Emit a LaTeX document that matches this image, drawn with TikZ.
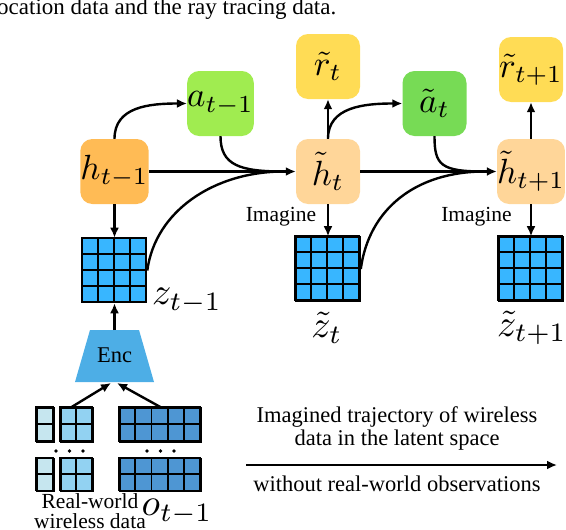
\documentclass[tikz,border=0pt]{standalone}
\usepackage{graphicx}
\usepackage[no-math]{fontspec}
\setmainfont{Liberation Serif}
\usetikzlibrary{arrows.meta,calc}
\definecolor{hOrange}{RGB}{255,187,85}
\definecolor{aGreenA}{RGB}{160,236,80}
\definecolor{hPeach}{RGB}{255,214,153}
\definecolor{rYellow}{RGB}{255,220,85}
\definecolor{aGreenB}{RGB}{119,219,85}
\definecolor{zBlue}{RGB}{56,182,255}
\definecolor{encBlue}{RGB}{77,174,230}
\definecolor{dA}{RGB}{198,230,239}
\definecolor{dB}{RGB}{146,210,242}
\definecolor{dC}{RGB}{78,150,211}
\newcommand\txtf{\fontsize{21.5}{20}\selectfont}
\newcommand\bigtxtf{\fontsize{22.5}{20}\selectfont}
\newcommand\capf{\fontsize{23}{20}\selectfont}
\newcommand\boxm[1]{\scalebox{3.5}{$#1$}}
\newcommand\labm[1]{\scalebox{3.8}{$#1$}}
% name, cols, rows, cell w, cell h
\newcommand\mycells[5]{%
  \foreach \c in {1,...,#2}{\foreach \r in {1,...,#3}{%
    \draw[cellline] ($(#1.north west)+({(\c-1)*#4},{(\r-1)*#5})$) rectangle +(#4,#5);}}%
}
\begin{document}
\begin{tikzpicture}[x=1pt,y=-1pt,
  box/.style={rounded corners=12pt, minimum width=64pt, minimum height=65pt, inner sep=0pt},
  lat/.style={fill=zBlue, draw=black, line width=1.6pt, minimum width=64pt, minimum height=64pt, inner sep=0pt},
  dat/.style={draw=black, line width=1.8pt, inner sep=0pt},
  cellline/.style={line width=1.7pt},
  arr/.style={line width=2.4pt, -{Latex[length=10pt,width=9pt]}},
  conn/.style={line width=2.4pt},
  lab/.style={inner sep=0pt},
  txt/.style={font=\txtf, inner sep=0pt, align=center},
  bigtxt/.style={font=\bigtxtf, inner sep=0pt, align=center}]
\useasboundingbox (0,0) rectangle (566,530);

% caption fragment
\node[anchor=base west, font=\capf, inner sep=0pt] (cap) at (-3,15) {ocation data and the ray tracing data.};

% boxes
\node[box, fill=hOrange] (h1) at (114.5,171.5) {\boxm{h_{t-1}}};
\node[box, fill=aGreenA] (a1) at (220.5,103.5) {\boxm{a_{t-1}}};
\node[box, fill=hPeach] (h2) at (328,171.5) {\boxm{\tilde h_t}};
\node[box, fill=rYellow] (r2) at (328,66.5) {\boxm{\tilde r_t}};
\node[box, fill=aGreenB] (a2) at (434.5,103.5) {\boxm{\tilde a_t}};
\node[box, fill=rYellow] (r3) at (531,69.5) {\boxm{\tilde r_{t+1}}};
\node[box, fill=hPeach] (h3) at (531,171.5) {\boxm{\tilde h_{t+1}}};

% latent grids
\node[lat] (z1) at (114.5,270.5) {};
\mycells{z1}{4}{4}{16}{16}
\node[lat] (z2) at (328,269) {};
\mycells{z2}{4}{4}{16}{16}
\node[lat] (z3) at (531,269) {};
\mycells{z3}{4}{4}{16}{16}

% labels
\node[lab] (lz1) at (187,301) {\labm{z_{t-1}}};
\node[lab] (lz2) at (327,328) {\labm{\tilde z_t}};
\node[lab] (lz3) at (532,328) {\labm{\tilde z_{t+1}}};
\node[txt] (im1) at (281,217) {Imagine};
\node[txt] (im2) at (476.5,217) {Imagine};

% encoder
\coordinate (encTL) at (90,330);
\coordinate (encTR) at (139,330);
\coordinate (encBR) at (154,382);
\coordinate (encBL) at (75,382);
\fill[encBlue] (encTL) -- (encTR) -- (encBR) -- (encBL) -- cycle;
\node[bigtxt] (enc) at (114.5,355) {Enc};
\coordinate (encT) at (114.5,330);
\coordinate (encBa) at (111,383);
\coordinate (encBb) at (117,383);

% data
\node[dat, fill=dA, minimum width=17pt, minimum height=34pt] (d1) at (45.5,425) {};
\mycells{d1}{1}{2}{17}{17}
\node[dat, fill=dB, minimum width=32pt, minimum height=34pt] (d2) at (77,425) {};
\mycells{d2}{2}{2}{16}{17}
\node[dat, fill=dC, minimum width=81pt, minimum height=34pt] (d3) at (160.5,425) {};
\mycells{d3}{5}{2}{16.2}{17}
\node[dat, fill=dA, minimum width=17pt, minimum height=33pt] (d4) at (45.5,475) {};
\mycells{d4}{1}{2}{17}{16.5}
\node[dat, fill=dB, minimum width=32pt, minimum height=33pt] (d5) at (77,475) {};
\mycells{d5}{2}{2}{16}{16.5}
\node[dat, fill=dC, minimum width=81pt, minimum height=33pt] (d6) at (160.5,475) {};
\mycells{d6}{5}{2}{16.2}{16.5}
\foreach \x in {56,69.5,83,147,160.5,174} \fill (\x,451) circle (1.9pt);
\coordinate (dl) at (70,408);
\node[txt] (rw) at (90,511) {Real-world\\wireless data};
\node[lab] (lo) at (177,512) {\labm{o_{t-1}}};

% connectors
\coordinate (m1) at ($(h2.west)+(-12,0)$);
\coordinate (m2) at ($(h3.west)+(-12,0)$);
\draw[arr] (h1.south) -- (z1.north);
\draw[arr] (encT) -- (z1.south);
\draw[arr] (dl) -- (encBa);
\draw[arr] (d3.north) -- (encBb);
\draw[arr] (h1.north) .. controls +(0,-32) and +(-38,0) .. (a1.west);
\draw[conn] (a1.south) .. controls +(0,29) and +(-44,0) .. (m1);
\draw[conn] (z1.east) .. controls +(8,-60) and +(-69,0) .. (m1);
\draw[arr] (h1.east) -- (h2.west);

\draw[arr] (h2.north) -- (r2.south);
\draw[arr] (h2.south) -- (z2.north);
\draw[arr] (h2.north) .. controls +(0,-32) and +(-38,0) .. (a2.west);
\draw[conn] (a2.south) .. controls +(0,29) and +(-44,0) .. (m2);
\draw[conn] (z2.east) .. controls +(8,-60) and +(-69,0) .. (m2);
\draw[arr] (h2.east) -- (h3.west);
\draw[arr] (h3.north) -- (r3.south);
\draw[arr] (h3.south) -- (z3.north);

% trajectory
\node[bigtxt] (tr1) at (397,417) {Imagined trajectory of wireless};
\node[bigtxt] (tr2) at (397,440) {data in the latent space};
\coordinate (tl) at (246,465);
\coordinate (tr) at (557,465);
\draw[arr] (tl) -- (tr);
\node[bigtxt] (tr3) at (397,484) {without real-world observations};
\end{tikzpicture}
\end{document}
